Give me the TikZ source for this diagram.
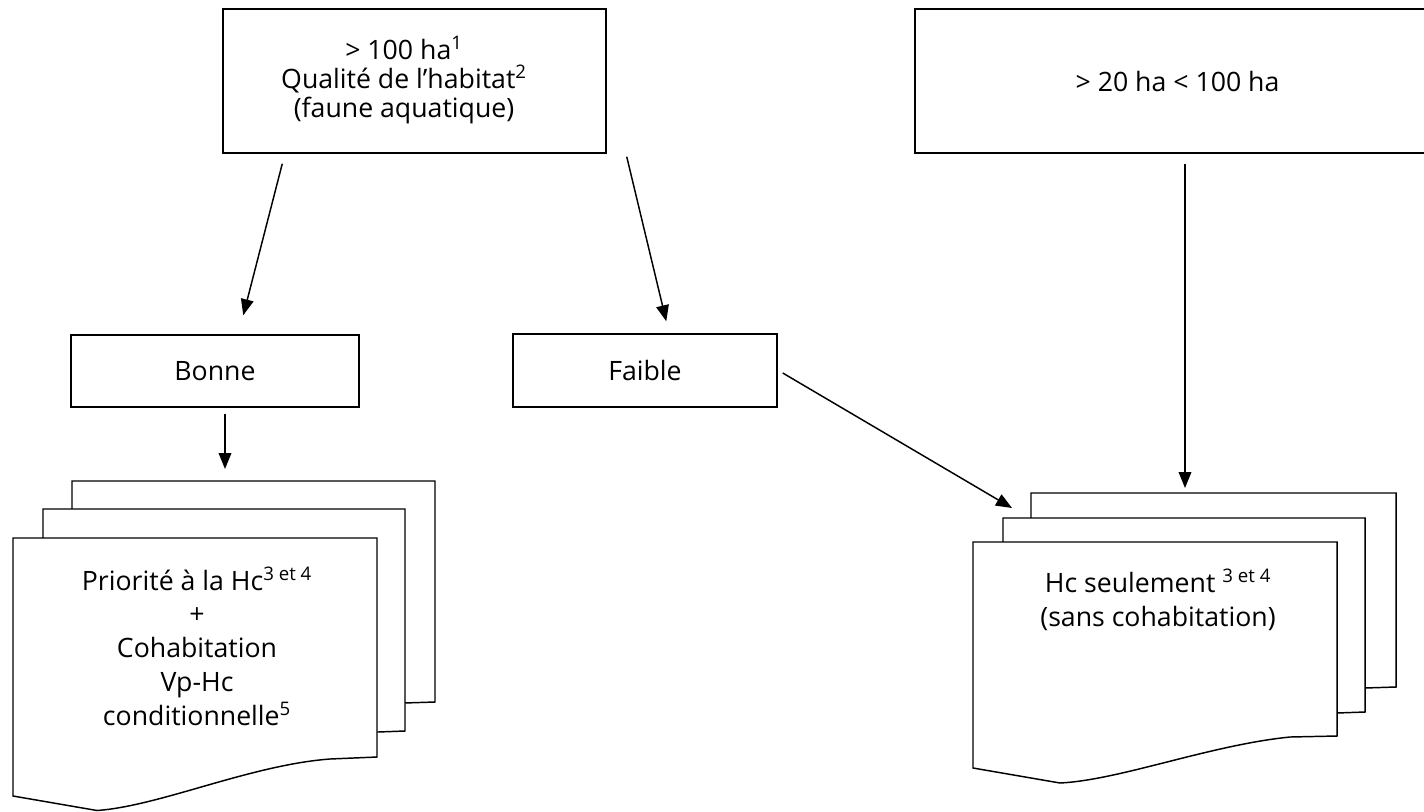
\documentclass[tikz,border=0pt]{standalone}
\usepackage{fontspec}
\setmainfont{Open Sans}
\usetikzlibrary{arrows.meta,calc}
\begin{document}
\begin{tikzpicture}[x=0.75pt,y=-0.75pt,
  every node/.style={font=\fontsize{20}{25}\selectfont},
  box/.style={draw,line width=1.1pt,inner sep=0pt,fill=white},
  sheet/.style={draw,line width=1.1pt,fill=white,line join=miter},
  arr/.style={line width=1.1pt,-{Triangle[length=12pt,width=9.5pt]}},
  txt/.style={align=center,inner sep=0pt}]
\useasboundingbox (0,0) rectangle (1424,811);
% top boxes
\node[box,minimum width=383*0.75pt,minimum height=144*0.75pt] (q) at (414.5,81) {};
\node[txt,font=\fontsize{20}{21.5}\selectfont] (qt) at (404,80) {> 100 ha\textsuperscript{1}\\Qualité de l’habitat\textsuperscript{2}\\(faune aquatique)};
\node[box,minimum width=525*0.75pt,minimum height=144*0.75pt] (r) at (1177.5,81) {> 20 ha < 100 ha};
% middle boxes
\node[box,minimum width=288*0.75pt,minimum height=72*0.75pt] (bonne) at (215,371) {Bonne};
\node[box,minimum width=264*0.75pt,minimum height=73*0.75pt] (faible) at (645,370.5) {Faible};
% left document stack
\coordinate (docL) at (72,481);
\draw[sheet] (72,481) -- (435,481) -- (435,702) -- (404,703) -- (390,703) -- (390,560) -- (72,560) -- cycle;
\draw[sheet] (43,509) -- (405,509) -- (405,731) -- (378,732) -- (360,732) -- (360,600) -- (43,600) -- cycle;
\draw[sheet] (13,538) -- (377,538) -- (377,757) -- (330,759)
  .. controls (250,765) and (160,806) .. (97,810.5) -- (13,796) -- cycle;
\node[txt,font=\fontsize{20}{25.3}\selectfont] (lt) at (197,646) {Priorité à la Hc\textsuperscript{3 et 4}\\+\\Cohabitation\\Vp-Hc\\conditionnelle\textsuperscript{5}};
% right document stack
\coordinate (docR) at (1031,493);
\draw[sheet] (1031,493) -- (1396,493) -- (1396,687) -- (1365,688) -- (1350,688) -- (1350,560) -- (1031,560) -- cycle;
\draw[sheet] (1003,518) -- (1365,518) -- (1365,712) -- (1337,713) -- (1320,713) -- (1320,600) -- (1003,600) -- cycle;
\draw[sheet] (973,542) -- (1337,542) -- (1337,736) -- (1290,737)
  .. controls (1210,745) and (1120,780) .. (1060,783) -- (973,768) -- cycle;
\node[txt,font=\fontsize{20}{25.3}\selectfont] (rt) at (1158,600) {Hc seulement \textsuperscript{3 et 4}\\(sans cohabitation)};
% connectors
\draw[arr] ($(q.south west)+(60,10)$) -- ($(bonne.north west)+(173,-19)$);
\draw[arr] ($(q.south east)+(20,3)$) -- ($(faible.north west)+(154,-12)$);
\draw[arr] ($(bonne.south)+(10,6)$) -- ($(docL)+(153,-12)$);
\draw[arr] ($(faible.east)+(5,2.5)$) -- ($(docR)+(-19,15)$);
\draw[arr] ($(r.south)+(7.5,10)$) -- ($(docR)+(154,-5)$);
\end{tikzpicture}
\end{document}
